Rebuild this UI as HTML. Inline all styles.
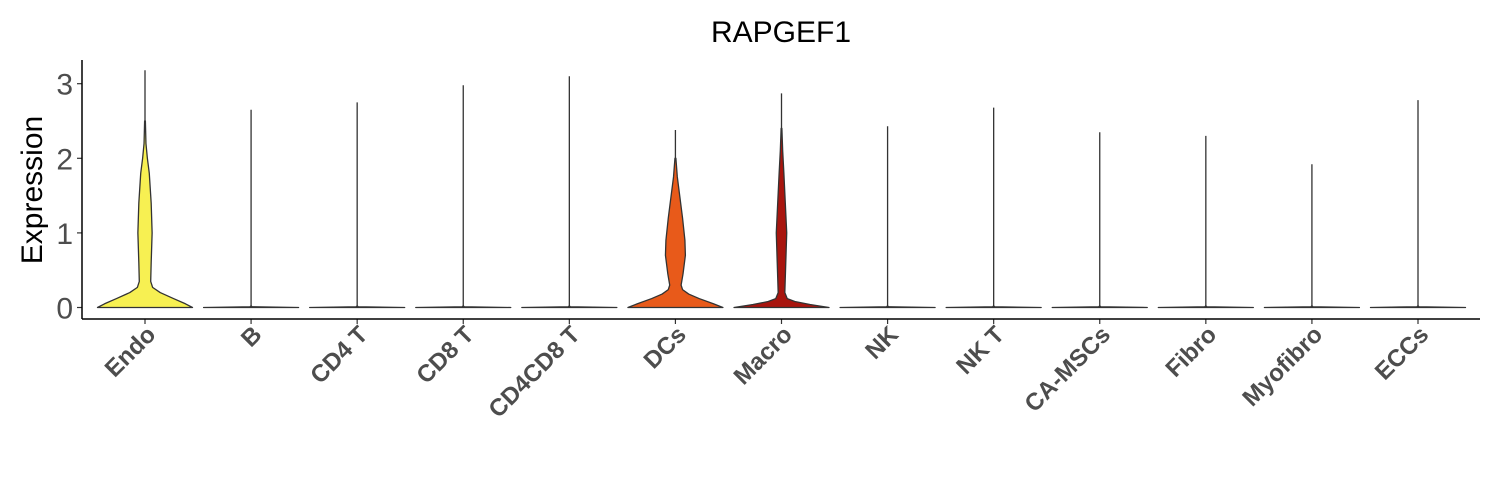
<!DOCTYPE html>
<html><head><meta charset="utf-8"><style>
body{margin:0;background:#fff;}
svg{display:block;font-family:"Liberation Sans",sans-serif;}
</style></head><body>
<svg id="chart" width="1500" height="500">
<text x="781" y="42" font-size="30" text-anchor="middle" fill="#000">RAPGEF1</text>
<text transform="translate(42,190) rotate(-90)" font-size="30" text-anchor="middle" fill="#000">Expression</text>
<g id="marks"></g>
<g id="axes"></g>
</svg>
<script>
const categories=["Endo","B","CD4 T","CD8 T","CD4CD8 T","DCs","Macro","NK","NK T","CA-MSCs","Fibro","Myofibro","ECCs"];
const colors=["#F7F052","#fff","#fff","#fff","#fff","#E85A1A","#A8150E","#fff","#fff","#fff","#fff","#fff","#fff"];
const maxValues=[3.18,2.65,2.75,2.98,3.1,2.38,2.87,2.43,2.68,2.35,2.3,1.92,2.78];
const yTicks=[0,1,2,3];
// density profiles: [expression, relative half-width 0..1]
const flatProfile=[[0,1],[0.01,0.02],[0.02,0.004]];
const endoProfile=[[0,1],[0.05,0.85],[0.12,0.6],[0.2,0.32],[0.27,0.16],[0.35,0.12],[0.6,0.13],[1.0,0.15],[1.4,0.13],[1.8,0.09],[2.0,0.05],[2.2,0.02],[2.5,0.008]];
const dcsProfile=[[0,1],[0.05,0.8],[0.12,0.5],[0.18,0.28],[0.24,0.15],[0.3,0.12],[0.45,0.16],[0.7,0.21],[0.9,0.2],[1.2,0.15],[1.5,0.09],[1.75,0.04],[2.0,0.01]];
const macroProfile=[[0,1],[0.04,0.6],[0.08,0.28],[0.12,0.12],[0.2,0.07],[0.6,0.09],[1.0,0.11],[1.4,0.08],[1.8,0.05],[2.1,0.025],[2.4,0.008]];
const profiles=[endoProfile,flatProfile,flatProfile,flatProfile,flatProfile,dcsProfile,macroProfile,flatProfile,flatProfile,flatProfile,flatProfile,flatProfile,flatProfile];

const x0=82,x1=1480,yBase=319;
const xScale=i=>145+i*(1418-145)/12;
const yScale=v=>307.5-v*74.6;
const maxHalf=47.5;
const NS="http://www.w3.org/2000/svg";
const marks=document.getElementById('marks'),axes=document.getElementById('axes');
function mk(tag,attrs,parent){const e=document.createElementNS(NS,tag);for(const k in attrs)e.setAttribute(k,attrs[k]);parent.appendChild(e);return e;}

categories.forEach((c,i)=>{
  const cx=xScale(i),p=profiles[i];
  const line=mk('line',{x1:cx,x2:cx,y1:yScale(0),y2:yScale(maxValues[i]),stroke:'#333','stroke-width':1.3},marks);
  
  
  let d='M'+(cx-p[0][1]*maxHalf)+','+yScale(p[0][0]);
  for(let k=1;k<p.length;k++)d+=' L'+(cx-p[k][1]*maxHalf)+','+yScale(p[k][0]);
  for(let k=p.length-1;k>=0;k--)d+=' L'+(cx+p[k][1]*maxHalf)+','+yScale(p[k][0]);
  d+='Z';
  const v=mk('path',{d:d,fill:colors[i],stroke:'#333','stroke-width':1.3,'stroke-linejoin':'round'},marks);
  
  
  const t=mk('line',{x1:cx,x2:cx,y1:yBase,y2:yBase+5,stroke:'#333','stroke-width':1.2},axes);
  
  
  const lb=mk('text',{transform:`translate(${cx+12},${yBase+17}) rotate(-45)`,'text-anchor':'end','font-size':24,'font-weight':'bold',fill:'#4d4d4d'},axes);
  lb.textContent=c;
  
  
});
yTicks.forEach(v=>{
  const t=mk('line',{x1:x0-5,x2:x0,y1:yScale(v),y2:yScale(v),stroke:'#333','stroke-width':1.2},axes);
  
  
  const lb=mk('text',{x:x0-9,y:yScale(v)+11,'text-anchor':'end','font-size':30,fill:'#4d4d4d'},axes);
  lb.textContent=v;
  
  
});
const ya=mk('line',{x1:x0,x2:x0,y1:60,y2:yBase,stroke:'#000','stroke-width':1.5},axes);


const xa=mk('line',{x1:x0,x2:x1,y1:yBase,y2:yBase,stroke:'#000','stroke-width':1.5},axes);


</script>
</body></html>
